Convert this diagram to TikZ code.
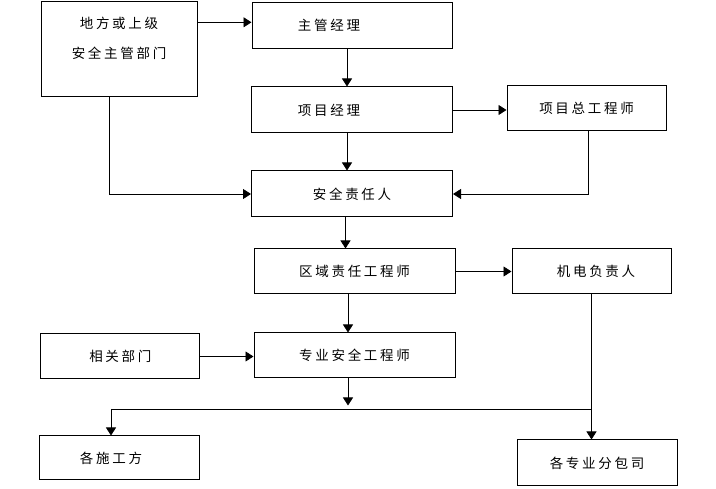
\documentclass[tikz,border=0pt]{standalone}
\usepackage{fontspec}
\usepackage{tikz}
\usetikzlibrary{arrows.meta}
\usetikzlibrary{calc}
\newfontfamily\cjk[LetterSpace=20]{Noto Sans CJK SC}

\begin{document}
\begin{tikzpicture}[x=1pt,y=-1pt,
  zi/.style={font=\cjk\fontsize{13.5}{16}\selectfont},
  kuang/.style={draw, line width=1pt, inner sep=0pt, zi},
  lian/.style={line width=0.8pt},
  >={Triangle[length=8pt,width=10pt]}]
	\useasboundingbox (0,0) rectangle (716,489);
	%% boxes
	\node (dfbm) [kuang, minimum width=156, minimum height=95.5,
	  label={[zi, align=center, anchor=north, inner sep=0pt, yshift=-16]north:地方或上级\\[14pt]安全主管部门}] at (119,49) {};
	\node (zgjl) [kuang, minimum width=200, minimum height=45.5] at (352,25.3) {主管经理\hspace*{46pt}};
	\node (xmjl) [kuang, minimum width=201, minimum height=46] at (352,110) {项目经理\hspace*{46pt}};
	\node (zgcs) [kuang, minimum width=159, minimum height=45] at (586.5,108.5) {项目总工程师};
	\node (aqzr) [kuang, minimum width=201, minimum height=46] at (352,194) {安全责任人};
	\node (qyzr) [kuang, minimum width=201, minimum height=45] at (354.5,271.5) {区域责任工程师};
	\node (jdfz) [kuang, minimum width=159, minimum height=45] at (591.5,271.5) {\hspace*{9pt}机电负责人};
	\node (xgbm) [kuang, minimum width=159, minimum height=45] at (120.3,356.5) {相关部门};
	\node (zyaq) [kuang, minimum width=201, minimum height=45] at (354.5,355.5) {专业安全工程师};
	\node (sgf) [kuang, minimum width=160, minimum height=44] at (119,458) {各施工方\hspace*{16pt}};
	\node (fbs) [kuang, minimum width=160, minimum height=46] at (597,463) {各专业分包司};
	%% connectors
	\draw[lian,->] ($(dfbm.east|-zgjl.west)+(0,-3)$) -- ($(zgjl.west)+(0,-3)$);
	\draw[lian,->] ([xshift=-5]zgjl.south) -- ([xshift=-5]xmjl.north);
	\draw[lian,->] (xmjl.east) -- (xmjl.east -| zgcs.west);
	\draw[lian,->] ([xshift=-5]xmjl.south) -- ([xshift=-5]aqzr.north);
	\draw[lian,->] ([xshift=-10]dfbm.south) |- (aqzr.west);
	\draw[lian,->] ([xshift=1.5]zgcs.south) |- (aqzr.east);
	\draw[lian,->] ([xshift=-6.5]aqzr.south) -- ([xshift=-6.5]aqzr.south |- qyzr.north);
	\draw[lian,->] (qyzr.east) -- (qyzr.east -| jdfz.west);
	\draw[lian,->] ([xshift=-6.5]qyzr.south) -- ([xshift=-6.5]zyaq.north);
	\draw[lian,->] (xgbm.east) -- (xgbm.east -| zyaq.west);
	\draw[lian,->] ([xshift=-6.5]zyaq.south) -- ++(0,27);
	\coordinate (zuo) at (111,409);
	\draw[lian] (jdfz.south |- zuo) -- (zuo);
	\draw[lian,->] (zuo) -- (zuo |- sgf.north);
	\draw[lian,->] (jdfz.south) -- (jdfz.south |- fbs.north);
\end{tikzpicture}
\end{document}
